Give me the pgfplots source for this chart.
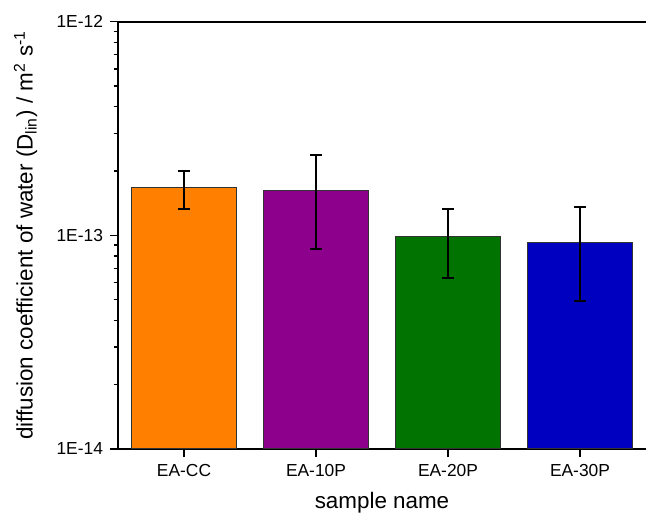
\documentclass[border=0pt]{standalone}
\usepackage{fontspec}
\setmainfont{Liberation Sans}
\usepackage{pgfplots}
\pgfplotsset{compat=1.18}
\definecolor{barorange}{HTML}{FF8000}
\definecolor{barpurple}{HTML}{8C008C}
\definecolor{bargreen}{HTML}{007300}
\definecolor{barblue}{HTML}{0000C0}
\pgfplotsset{
  mybar/.style={ybar, bar width=0.8, bar shift=0pt, fill=#1, draw=gray!40!black, line width=0.5pt,
    error bars/.cd, y dir=both, y explicit,
    error bar style={line width=1pt, black},
    error mark options={rotate=90, mark size=2.8pt, line width=1pt, black}},
}

\begin{document}
\begin{tikzpicture}
\begin{axis}[
    name=ax,
    scale only axis,
    width=264pt, height=213.6pt,
    ymode=log, log origin=infty,
    ymin=1e-14, ymax=1e-12,
    xmin=-0.5, xmax=3.5,
    axis x line=box, axis y line=left,
    axis line style={-, line width=0.9pt},
    xtick pos=left,
    tick align=outside,
    major tick length=4pt, minor tick length=2pt,
    every tick/.style={black, line width=0.7pt},
    xtick={0,1,2,3}, xticklabels={EA-CC,EA-10P,EA-20P,EA-30P},
    ytick={1e-14,1e-13,1e-12}, yticklabels={1E-14,1E-13,1E-12},
    ticklabel style={font=\fontsize{8.7}{10}\selectfont},
    xlabel={sample name},
    ylabel={diffusion coefficient of water (D\textsubscript{lin}) / m\textsuperscript{2} s\textsuperscript{-1}},
    label style={font=\fontsize{11.2}{13}\selectfont},
    xlabel style={at={(axis description cs:0.5,-0.127)}, anchor=center},
    ylabel style={at={(axis description cs:-0.175,0.5)}, anchor=center},
  ]
  \addplot[mybar=barorange] coordinates {(0,1.667e-13) +- (0,0.334e-13)};
  \addplot[mybar=barpurple] coordinates {(1,1.625e-13) +- (0,0.76e-13)};
  \addplot[mybar=bargreen] coordinates {(2,0.982e-13) +- (0,0.35e-13)};
  \addplot[mybar=barblue] coordinates {(3,0.924e-13) +- (0,0.43e-13)};
\end{axis}
\pgfresetboundingbox
\path ([shift={(-59pt,-32pt)}]ax.south west) rectangle ([shift={(0pt,10.8pt)}]ax.north east);
\end{tikzpicture}
\end{document}
